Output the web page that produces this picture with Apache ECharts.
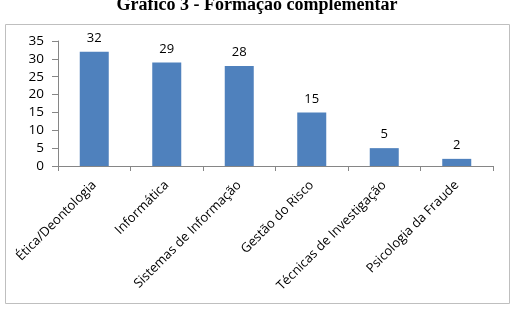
<!DOCTYPE html>
<html>
<head>
<meta charset="utf-8">
<script src="https://cdn.jsdelivr.net/npm/echarts@6/dist/echarts.min.js"></script>
<style>
  html, body { margin: 0; padding: 0; background: #fff; }
  #chart { width: 514px; height: 313px; }
</style>
</head>
<body>
<div id="chart"></div>
<script>
// dados
const categories = ['Ética/Deontologia', 'Informática', 'Sistemas de Informação', 'Gestão do Risco', 'Técnicas de Investigação', 'Psicologia da Fraude']
const values = [32, 29, 28, 15, 5, 2]
const titleText = 'Gráfico 3 - Formação complementar'

const chart = echarts.init(document.getElementById('chart'))

const option = {
  animation: false,
  title: {
    text: titleText,
    left: 'center',
    top: -9,
    textStyle: {
      fontFamily: 'Liberation Serif',
      fontSize: 18,
      fontWeight: 'bold',
      color: '#000',
    },
  },
  graphic: [
    {
      type: 'rect',
      shape: { x: 5.5, y: 24.5, width: 504, height: 279 },
      style: { fill: 'none', stroke: '#bfbfbf', lineWidth: 1 },
      z: -1,
    },
  ],
  grid: {
    left: 58,
    right: 21,
    top: 41,
    bottom: 147,
  },
  xAxis: {
    type: 'category',
    data: categories,
    axisLine: { lineStyle: { color: '#868686' } },
    axisTick: { show: true, length: 5, lineStyle: { color: '#868686' } },
    axisLabel: {
      rotate: 45,
      interval: 0,
      margin: 17,
      fontFamily: 'Open Sans',
      fontSize: 13,
      color: '#000',
    },
  },
  yAxis: {
    type: 'value',
    min: 0,
    max: 35,
    interval: 5,
    axisLine: { show: true, lineStyle: { color: '#868686' } },
    axisTick: { show: true, length: 6, lineStyle: { color: '#868686' } },
    splitLine: { show: false },
    axisLabel: {
      margin: 14,
      fontFamily: 'Open Sans',
      fontSize: 13.5,
      color: '#000',
    },
  },
  series: [
    {
      type: 'bar',
      data: values,
      barCategoryGap: '60%',
      itemStyle: { color: '#4f81bd' },
      label: {
        show: true,
        position: 'top',
        distance: 7,
        fontFamily: 'Open Sans',
        fontSize: 13,
        color: '#000',
      },
    },
  ],
}

chart.setOption(option)
</script>
</body>
</html>
